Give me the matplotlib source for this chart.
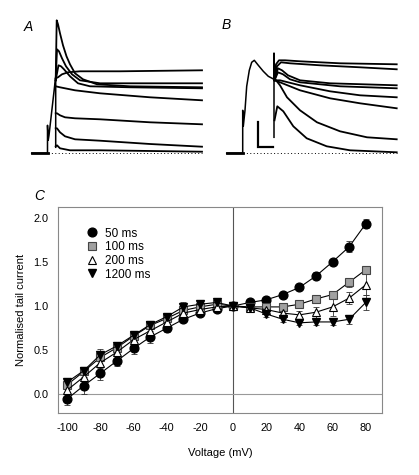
import matplotlib
matplotlib.use("Agg")
import matplotlib.pyplot as plt

plt.rcParams['font.family'] = ['Liberation Sans', 'DejaVu Sans']

# ---------------- Panel C data ----------------
voltage = [-100, -90, -80, -70, -60, -50, -40, -30, -20, -10, 0, 10, 20, 30, 40, 50, 60, 70, 80]
series_labels = ['50 ms', '100 ms', '200 ms', '1200 ms']
tail_50 = [-0.05, 0.10, 0.24, 0.38, 0.52, 0.65, 0.75, 0.85, 0.92, 0.97, 1.00, 1.04, 1.07, 1.13, 1.21, 1.34, 1.50, 1.67, 1.93]
err_50 = [0.07, 0.10, 0.08, 0.06, 0.06, 0.07, 0.04, 0.03, 0.03, 0.02, 0.02, 0.02, 0.02, 0.02, 0.02, 0.04, 0.03, 0.06, 0.05]
tail_100 = [0.11, 0.26, 0.42, 0.53, 0.66, 0.78, 0.86, 0.95, 0.99, 1.02, 1.00, 0.99, 0.99, 0.99, 1.02, 1.08, 1.13, 1.27, 1.41]
err_100 = [0.05, 0.03, 0.04, 0.03, 0.03, 0.03, 0.03, 0.03, 0.02, 0.02, 0.02, 0.02, 0.02, 0.02, 0.02, 0.02, 0.03, 0.05, 0.04]
tail_200 = [0.05, 0.20, 0.36, 0.48, 0.62, 0.72, 0.82, 0.92, 0.96, 0.99, 1.00, 0.98, 0.96, 0.92, 0.90, 0.93, 0.99, 1.09, 1.24]
err_200 = [0.08, 0.05, 0.06, 0.05, 0.04, 0.04, 0.03, 0.04, 0.03, 0.02, 0.02, 0.02, 0.03, 0.04, 0.04, 0.06, 0.10, 0.07, 0.12]
tail_1200 = [0.14, 0.27, 0.45, 0.55, 0.67, 0.79, 0.88, 0.99, 1.02, 1.04, 1.00, 0.98, 0.91, 0.85, 0.81, 0.82, 0.82, 0.85, 1.04]
err_1200 = [0.05, 0.03, 0.06, 0.04, 0.03, 0.03, 0.03, 0.05, 0.03, 0.02, 0.02, 0.03, 0.03, 0.03, 0.02, 0.03, 0.03, 0.05, 0.08]
x_ticks = [-100, -80, -60, -40, -20, 0, 20, 40, 60, 80]
y_ticks = [0.0, 0.5, 1.0, 1.5, 2.0]

# ---------------- Panel A traces (time, current; arbitrary units) ----------------
A_pre_t = [-15.8, 0, 0, 0.7, 1.5, 8.0, 8.2, 8.2]
A_pre_i = [0, 0, 28, 13, 18, 75, 75, 6]
A_traces = [
    ([8.2, 9.2, 10.5, 12.5, 15.5, 19, 22.5, 27.5, 35.5, 49.5, 82.5, 154.5],
     [73, 133, 129, 120, 108, 97, 89, 80, 74, 69, 67, 66]),
    ([8.2, 9.5, 11.5, 14.5, 18.5, 24.5, 32.5, 52.5, 92.5, 154.5],
     [73, 104, 102, 95, 87, 79, 73, 70, 70, 70]),
    ([8.2, 11, 13.5, 16.5, 22.5, 30.5, 42.5, 82.5, 154.5],
     [73, 88, 87, 84, 77, 70, 67, 66, 65]),
    ([8.2, 10.5, 14.5, 20.5, 32.5, 72.5, 154.5],
     [75, 76, 79, 81, 82, 82, 83]),
    ([8.2, 12.5, 27.5, 52.5, 102.5, 154.5],
     [67, 66, 63, 60, 56, 53]),
    ([8.2, 9.5, 12.5, 17.5, 27.5, 52.5, 102.5, 154.5],
     [40, 40, 38, 36, 35, 34, 31, 29]),
    ([8.2, 9.5, 12.5, 17.5, 27.5, 52.5, 102.5, 154.5],
     [25, 25, 21, 17, 14, 12.6, 9.3, 6.6]),
    ([8.2, 9.5, 12.5, 22.5, 52.5, 154.5],
     [7, 8, 5, 3, 3, 1.6]),
]
A_base_end = 154.5

# ---------------- Panel B traces ----------------
B_pre_t = [-16, 0, 0, 0.6, 2.3, 4, 6.6, 9, 11.6, 15.6, 20.6, 25.6, 31.3, 31.3, 31.3]
B_pre_i = [0, 0, 43, 27, 43, 67, 83, 91, 93, 88, 82, 77, 74, 100, 16]
B_traces = [
    ([31.8, 33.3, 36.3, 42.3, 57.3, 97.3, 154], [73, 89, 93, 93, 92, 90, 89]),
    ([31.8, 34.3, 38.3, 47.3, 77.3, 117.3, 154], [73, 87, 91, 90, 88, 86, 84]),
    ([31.8, 35.3, 39.3, 45.3, 57.3, 87.3, 154], [73, 85, 83, 78, 73, 70, 68]),
    ([31.8, 35.3, 40.3, 47.3, 57.3, 97.3, 154], [73, 81, 79, 74, 71, 67, 65]),
    ([31.8, 37.3, 57.3, 87.3, 117.3, 154], [73, 73, 68, 62, 58, 56]),
    ([31.8, 37.3, 47.3, 57.3, 87.3, 117.3, 154], [73, 71, 67, 63, 55, 50, 45]),
    ([31.8, 37.3, 44.3, 57.3, 74.3, 97.3, 124.3, 154], [75, 68, 56, 43, 31, 22, 16, 14]),
    ([31.8, 34.6, 40.6, 50.6, 64, 84, 107.3, 154], [33, 47, 42, 27, 15, 7, 3, 1]),
]
B_base_end = 154
scalebar_origin = (15.6, 6.6)
scalebar_len_t = 15
scalebar_len_i = 25

W, H = 419, 475
fig = plt.figure(figsize=(W / 100, H / 100), dpi=100)


def px_axes(l, t, r, b):
    return fig.add_axes([l / W, 1 - b / H, (r - l) / W, (b - t) / H])


# Panel A
axA = px_axes(20, 5, 210, 165)
axA.set_xlim(-27.5, 162.5)
axA.set_ylim(-11.7, 148.3)
axA.axis('off')
axA.plot([0, A_base_end], [0, 0], color='black', lw=0.7, ls=(0, (1, 2.5)))
axA.plot(A_pre_t, A_pre_i, color='black', lw=1.1)
axA.plot(A_pre_t[:2], A_pre_i[:2], color='black', lw=2.0)
for t, i in A_traces:
    axA.plot(t, i, color='black', lw=1.3)
fig.text(28 / W, 1 - 27 / H, 'A', fontsize=10, style='italic', ha='center', va='center')

# Panel B
axB = px_axes(215, 5, 410, 165)
axB.set_xlim(-27.7, 167.3)
axB.set_ylim(-11.7, 148.3)
axB.axis('off')
axB.plot([0, B_base_end], [0, 0], color='black', lw=0.7, ls=(0, (1, 2.5)))
axB.plot(B_pre_t, B_pre_i, color='black', lw=1.1)
axB.plot(B_pre_t[:2], B_pre_i[:2], color='black', lw=2.0)
for t, i in B_traces:
    axB.plot(t, i, color='black', lw=1.3)
sx, sy = scalebar_origin
axB.plot([sx, sx, sx + scalebar_len_t], [sy + scalebar_len_i, sy, sy],
         color='black', lw=1.6, solid_joinstyle='miter')
fig.text(226 / W, 1 - 25 / H, 'B', fontsize=10, style='italic', ha='center', va='center')

# Panel C
axC = px_axes(58, 207, 382, 413)
axC.set_xlim(-105.6, 89.8)
axC.set_ylim(-0.21, 2.12)
axC.axvline(0, color='#555555', lw=0.8, zorder=1)
axC.axhline(0, color='#999999', lw=0.8, zorder=1)

styles = [
    dict(marker='o', mfc='black', mec='black', ms=6.3),
    dict(marker='s', mfc='#a0a0a0', mec='#444444', ms=5.5, mew=0.8),
    dict(marker='^', mfc='white', mec='black', ms=6, mew=0.8),
    dict(marker='v', mfc='black', mec='black', ms=6),
]
data = [(tail_50, err_50), (tail_100, err_100), (tail_200, err_200), (tail_1200, err_1200)]
for (vals, errs), st, lab in zip(data, styles, series_labels):
    axC.errorbar(voltage, vals, yerr=errs, fmt='none', ecolor='#333333',
                 elinewidth=0.6, capsize=2.5, capthick=0.6, zorder=2)
    axC.plot(voltage, vals, color='black', lw=0.8, label=lab, zorder=3, **st)

leg_handles = []
for st, lab in zip(styles, series_labels):
    h, = axC.plot([], [], ls='none', label=lab, **st)
    leg_handles.append(h)
axC.legend(handles=leg_handles, loc='upper left', bbox_to_anchor=(0.088, 0.9),
           frameon=False, fontsize=8.5, handlelength=1.0, handletextpad=0.6,
           labelspacing=0.14, borderpad=0, borderaxespad=0)

axC.set_xticks(x_ticks)
axC.set_yticks(y_ticks)
axC.set_xticklabels([str(v) for v in x_ticks])
axC.set_yticklabels(['%.1f' % v for v in y_ticks])
axC.tick_params(length=0, labelsize=7.8, pad=7)
for sp in axC.spines.values():
    sp.set_color('#888888')
    sp.set_linewidth(0.8)
axC.set_ylabel('Normalised tail current', fontsize=8, labelpad=5)
axC.set_xlabel('Voltage (mV)', fontsize=8, labelpad=11)
fig.text(39 / W, 1 - 196 / H, 'C', fontsize=10, style='italic', ha='center', va='center')

fig.savefig('out.png', dpi=100)
